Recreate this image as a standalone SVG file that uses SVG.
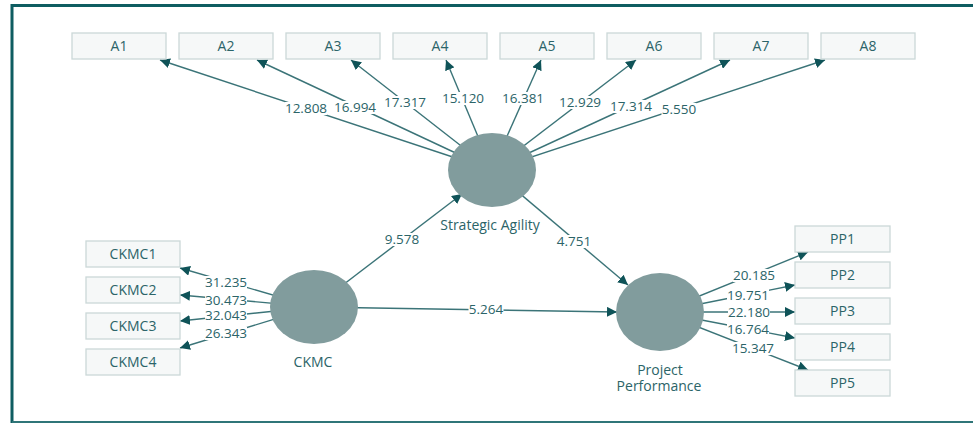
<svg xmlns="http://www.w3.org/2000/svg" width="973" height="423" viewBox="0 0 973 423">
<defs>
<marker id="ah" markerUnits="userSpaceOnUse" markerWidth="11" markerHeight="10" refX="10" refY="5" orient="auto">
<path d="M0,0 L10,5 L0,10 z" fill="#0f5358"/>
</marker>
<style>
.frame{fill:none;stroke:#0e5d61;stroke-width:3}
.box rect{fill:#f6f8f8;stroke:#cbd8d8;stroke-width:1.3}
.box text,.lv text{font-family:"Open Sans","Noto Sans",sans-serif;font-size:14px;fill:#2b6468;text-anchor:middle}
.lv ellipse{fill:#819c9d}
.c line{stroke:#3b7478;stroke-width:1.4;marker-end:url(#ah)}
.c rect{fill:#fff}
.c text{font-family:"Open Sans","Noto Sans",sans-serif;font-size:13.5px;fill:#2b6468;text-anchor:middle}
</style>
</defs>
<rect width="973" height="423" fill="#fff"/>
<path class="frame" d="M12,423 V5.5 H973"/>
<line x1="12" y1="422" x2="973" y2="422" stroke="#2f7578" stroke-width="2"/>

<g id="connectors" class="c">
<line x1="492" y1="170" x2="160" y2="60"/>
<line x1="492" y1="170" x2="257" y2="60"/>
<line x1="492" y1="170" x2="351" y2="60"/>
<line x1="492" y1="170" x2="446" y2="60"/>
<line x1="492" y1="170" x2="541" y2="60"/>
<line x1="492" y1="170" x2="636" y2="60"/>
<line x1="492" y1="170" x2="730" y2="60"/>
<line x1="492" y1="170" x2="825" y2="60"/>
<line x1="314" y1="307" x2="180" y2="268"/>
<line x1="314" y1="307" x2="180" y2="295"/>
<line x1="314" y1="307" x2="180" y2="321"/>
<line x1="314" y1="307" x2="180" y2="348"/>
<line x1="314" y1="307" x2="462" y2="194"/>
<line x1="492" y1="170" x2="628" y2="285"/>
<line x1="314" y1="307" x2="617" y2="312"/>
<line x1="660" y1="312" x2="808" y2="252"/>
<line x1="660" y1="312" x2="795" y2="285"/>
<line x1="660" y1="312" x2="795" y2="312"/>
<line x1="660" y1="312" x2="795" y2="338"/>
<line x1="660" y1="312" x2="808" y2="370"/>
<rect x="285" y="102" width="42" height="13"/>
<rect x="334" y="101" width="42" height="13"/>
<rect x="384" y="96" width="42" height="13"/>
<rect x="442" y="92" width="42" height="13"/>
<rect x="502" y="92" width="42" height="13"/>
<rect x="559" y="96" width="42" height="13"/>
<rect x="610" y="100" width="42" height="13"/>
<rect x="661.5" y="103" width="35" height="13"/>
<rect x="205" y="276" width="42" height="13"/>
<rect x="205" y="294" width="42" height="13"/>
<rect x="205" y="309" width="42" height="13"/>
<rect x="205" y="327" width="42" height="13"/>
<rect x="384.5" y="233" width="35" height="13"/>
<rect x="556.5" y="235" width="35" height="13"/>
<rect x="468.5" y="303" width="35" height="13"/>
<rect x="733" y="269" width="42" height="13"/>
<rect x="727" y="289" width="42" height="13"/>
<rect x="728" y="306" width="42" height="13"/>
<rect x="727" y="323" width="42" height="13"/>
<rect x="732" y="342" width="42" height="13"/>
<text x="306" y="113">12.808</text>
<text x="355" y="112">16.994</text>
<text x="405" y="107">17.317</text>
<text x="463" y="103">15.120</text>
<text x="523" y="103">16.381</text>
<text x="580" y="107">12.929</text>
<text x="631" y="111">17.314</text>
<text x="679" y="114">5.550</text>
<text x="226" y="287">31.235</text>
<text x="226" y="305">30.473</text>
<text x="226" y="320">32.043</text>
<text x="226" y="338">26.343</text>
<text x="402" y="244">9.578</text>
<text x="574" y="246">4.751</text>
<text x="486" y="314">5.264</text>
<text x="754" y="280">20.185</text>
<text x="748" y="300">19.751</text>
<text x="749" y="317">22.180</text>
<text x="748" y="334">16.764</text>
<text x="753" y="353">15.347</text>
</g>

<g id="SA" class="lv"><ellipse cx="492" cy="170" rx="44" ry="37"/><text x="490" y="229.5">Strategic Agility</text></g>
<g id="CKMC" class="lv"><ellipse cx="314" cy="307" rx="44" ry="37"/><text x="313" y="367">CKMC</text></g>
<g id="PP" class="lv"><ellipse cx="660" cy="312" rx="44" ry="39"/><text x="660" y="374.5">Project</text><text x="659" y="390.5">Performance</text></g>

<g id="A1" class="box"><rect x="72" y="33" width="94" height="26"/><text x="119" y="51">A1</text></g>
<g id="A2" class="box"><rect x="179" y="33" width="94" height="26"/><text x="226" y="51">A2</text></g>
<g id="A3" class="box"><rect x="286" y="33" width="94" height="26"/><text x="333" y="51">A3</text></g>
<g id="A4" class="box"><rect x="393" y="33" width="94" height="26"/><text x="440" y="51">A4</text></g>
<g id="A5" class="box"><rect x="500" y="33" width="94" height="26"/><text x="547" y="51">A5</text></g>
<g id="A6" class="box"><rect x="607" y="33" width="94" height="26"/><text x="654" y="51">A6</text></g>
<g id="A7" class="box"><rect x="714" y="33" width="94" height="26"/><text x="761" y="51">A7</text></g>
<g id="A8" class="box"><rect x="821" y="33" width="94" height="26"/><text x="868" y="51">A8</text></g>

<g id="CKMC1" class="box"><rect x="86" y="241" width="94" height="26"/><text x="133" y="259">CKMC1</text></g>
<g id="CKMC2" class="box"><rect x="86" y="277" width="94" height="26"/><text x="133" y="295">CKMC2</text></g>
<g id="CKMC3" class="box"><rect x="86" y="313" width="94" height="26"/><text x="133" y="331">CKMC3</text></g>
<g id="CKMC4" class="box"><rect x="86" y="349" width="94" height="26"/><text x="133" y="367">CKMC4</text></g>

<g id="PP1" class="box"><rect x="795" y="226" width="95" height="26"/><text x="842.5" y="244">PP1</text></g>
<g id="PP2" class="box"><rect x="795" y="262" width="95" height="26"/><text x="842.5" y="280">PP2</text></g>
<g id="PP3" class="box"><rect x="795" y="298" width="95" height="26"/><text x="842.5" y="316">PP3</text></g>
<g id="PP4" class="box"><rect x="795" y="334" width="95" height="26"/><text x="842.5" y="352">PP4</text></g>
<g id="PP5" class="box"><rect x="795" y="370" width="95" height="26"/><text x="842.5" y="388">PP5</text></g>
</svg>
